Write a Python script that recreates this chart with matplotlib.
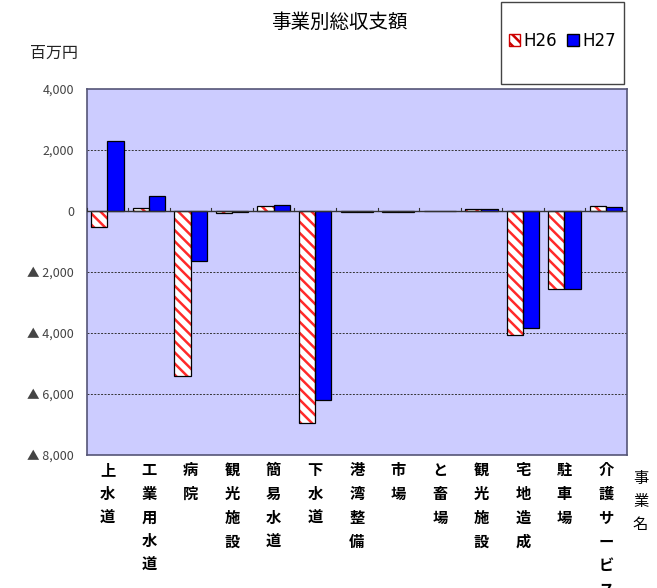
import numpy as np
import matplotlib.pyplot as plt
from matplotlib.patches import Patch, Rectangle

plt.rcParams['font.family'] = ['Noto Sans CJK JP', 'DejaVu Sans']
plt.rcParams['hatch.linewidth'] = 1.8

categories = ["上水道", "工業用水道", "病院", "観光施設", "簡易水道", "下水道", "港湾整備",
              "市場", "と畜場", "観光施設", "宅地造成", "駐車場", "介護サービス"]
h26 = [-520, 110, -5400, -80, 150, -6950, -25, -25, 0, 50, -4050, -2550, 160]
h27 = [2280, 490, -1650, -20, 200, -6200, -25, -25, 0, 50, -3820, -2550, 130]
yticks = [4000, 2000, 0, -2000, -4000, -6000, -8000]

fig = plt.figure(figsize=(6.57, 5.88), dpi=100)
ax = fig.add_axes([0.132, 0.226, 0.822, 0.623])
ax.set_facecolor("#CCCCFF")

x = np.arange(len(categories))
w = 0.39
# H26: red hatch on white, black outline
ax.bar(x - w / 2, h26, w, color="white", edgecolor="#FF2A2A", hatch="\\\\\\", linewidth=0, zorder=3)
ax.bar(x - w / 2, h26, w, fill=False, edgecolor="black", linewidth=0.9, zorder=4)
ax.bar(x + w / 2, h27, w, color="#0000FF", edgecolor="black", linewidth=0.9, zorder=3)

ax.set_xlim(-0.5, len(categories) - 0.5)
ax.set_ylim(-8000, 4000)
ax.set_yticks(yticks)
ax.set_yticklabels([f"{v:,}" if v >= 0 else f"▲ {-v:,}" for v in yticks], fontsize=9, color="#444444")
for v in yticks[1:-1]:
    if v != 0:
        ax.axhline(v, color="#333333", linestyle=(0, (2, 1.5)), linewidth=0.7, zorder=1)
ax.axhline(0, color="#333333", linewidth=1.0, zorder=5)
for b in np.arange(len(categories) + 1) - 0.5:
    ax.plot([b, b], [0, 110], color="#333333", linewidth=0.8, zorder=5)

ax.set_xticks(x)
ax.set_xticklabels(["\n".join(c) for c in categories], fontsize=11, fontweight="bold",
                   va="top", linespacing=1.6)
ax.tick_params(axis="x", length=0, pad=5)
ax.tick_params(axis="y", length=0, pad=9)
for s in ax.spines.values():
    s.set_color("#555577")
    s.set_linewidth(1.2)

fig.text(0.517, 0.962, "事業別総収支額", ha="center", va="center", fontsize=14)
fig.text(0.045, 0.91, "百万円", ha="left", va="center", fontsize=11.5, color="#222222")
fig.text(0.975, 0.2, "事\n業\n名", ha="center", va="top", fontsize=11, linespacing=1.45)

fig.patches.append(Rectangle((0.762, 0.857), 0.188, 0.139, transform=fig.transFigure,
                             facecolor="white", edgecolor="#444444", linewidth=1.0))
handles = [Patch(facecolor="white", edgecolor="#CC0000", hatch="\\\\\\", label="H26"),
           Patch(facecolor="#0000FF", edgecolor="black", label="H27")]
fig.legend(handles=handles, loc="center", bbox_to_anchor=(0.856, 0.93), ncol=2, frameon=False,
           handlelength=0.7, handleheight=0.7, handletextpad=0.2, columnspacing=0.6,
           prop={"family": "DejaVu Sans", "size": 12})

fig.savefig("out.png", dpi=100)
